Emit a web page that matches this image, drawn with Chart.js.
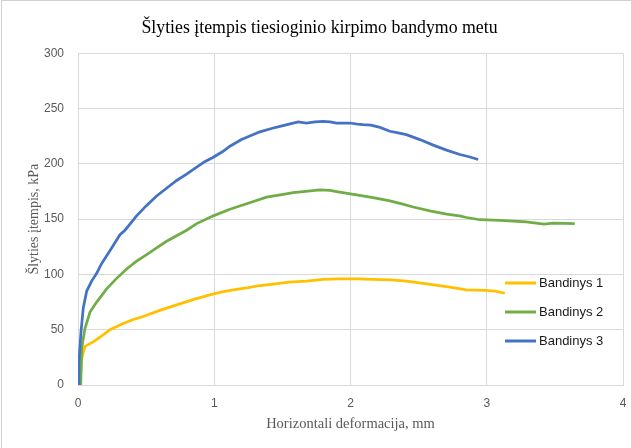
<!DOCTYPE html>
<html>
<head>
<meta charset="utf-8">
<script src="https://cdn.jsdelivr.net/npm/chart.js@4/dist/chart.umd.min.js"></script>
<style>
html,body{margin:0;padding:0;background:#fff;}
#wrap{width:631px;height:448px;position:relative;}
</style>
</head>
<body>
<div id="wrap"><canvas id="c" width="631" height="448"></canvas></div>
<script>
const chartTitle = "Šlyties įtempis tiesioginio kirpimo bandymo metu";
const xTitle = "Horizontali deformacija, mm";
const yTitle = "Šlyties įtempis, kPa";
const seriesNames = ["Bandinys 1", "Bandinys 2", "Bandinys 3"];
const seriesColors = ["#FFC000", "#70AD47", "#4472C4"];

const b1X = [0.015, 0.027, 0.051, 0.112, 0.17, 0.235, 0.32, 0.4, 0.479, 0.6, 0.724, 0.85, 0.968, 1.05, 1.14, 1.25, 1.335, 1.45, 1.55, 1.678, 1.8, 1.922, 2.05, 2.166, 2.3, 2.41, 2.558, 2.705, 2.852, 2.998, 3.06, 3.133];
const b1Y = [0, 24, 35, 39, 44, 50, 55, 59, 62, 67.5, 72.5, 77.5, 81.5, 84, 86, 88, 90, 91.5, 93, 94, 95.5, 96, 96, 95.5, 95, 94, 91.5, 89, 86, 85.5, 85, 83];

const b2X = [0.02, 0.027, 0.051, 0.088, 0.137, 0.21, 0.28, 0.357, 0.43, 0.504, 0.577, 0.65, 0.724, 0.797, 0.871, 0.993, 1.115, 1.238, 1.384, 1.506, 1.58, 1.653, 1.775, 1.85, 1.898, 2.044, 2.166, 2.289, 2.37, 2.46, 2.583, 2.705, 2.80, 2.852, 2.95, 3.10, 3.29, 3.42, 3.49, 3.646];
const b2Y = [0, 33, 51, 66, 75, 87, 96, 105, 112, 118, 124, 130, 135, 140, 146, 153, 159, 164, 170, 172.5, 174, 175, 176.5, 176, 175, 172, 169.5, 166.5, 164, 161, 157.5, 154.5, 153, 151.5, 149.5, 149, 147.5, 145.5, 146.5, 146];

const b3X = [0, 0.007, 0.022, 0.039, 0.064, 0.10, 0.137, 0.174, 0.247, 0.308, 0.345, 0.43, 0.5, 0.577, 0.65, 0.724, 0.8, 0.871, 0.93, 0.993, 1.06, 1.115, 1.2, 1.335, 1.42, 1.482, 1.55, 1.616, 1.677, 1.74, 1.80, 1.85, 1.898, 1.95, 1.996, 2.05, 2.093, 2.15, 2.216, 2.289, 2.35, 2.41, 2.509, 2.607, 2.705, 2.803, 2.87, 2.937];
const b3Y = [0, 21, 48, 70, 85, 94, 101, 110, 124, 136, 140, 153, 162, 171, 178, 185, 191, 197, 202, 206, 211, 216, 222, 229, 232, 234, 236, 238, 237, 238, 238.5, 238, 237, 237, 237, 236, 235.5, 235, 233, 229.5, 228, 226.5, 222, 217, 212.5, 208.5, 206.5, 204];

const xTicks = [0, 1, 2, 3, 4];
const yTicks = [0, 50, 100, 150, 200, 250, 300];

function pts(xs, ys){ return xs.map((x,i)=>({x:x, y:ys[i]})); }
const allX = [b1X, b2X, b3X];
const allY = [b1Y, b2Y, b3Y];

const datasets = seriesNames.map((name,i)=>({
  label: name,
  data: pts(allX[i], allY[i]),
  borderColor: seriesColors[i],
  backgroundColor: seriesColors[i],
  borderWidth: 2.75,
  pointRadius: 0,
  tension: 0,
  fill: false,
  order: 2 - i
}));

const customLegend = {
  id: 'customLegend',
  afterDraw(chart){
    const ctx = chart.ctx;
    ctx.save();
    ctx.font = '13px "Liberation Sans", Arial, sans-serif';
    ctx.textBaseline = 'middle';
    ctx.textAlign = 'left';
    const ys = [283, 312, 341];
    chart.data.datasets.forEach((ds,i)=>{
      ctx.strokeStyle = ds.borderColor;
      ctx.lineWidth = 3;
      ctx.beginPath();
      ctx.moveTo(505, ys[i]);
      ctx.lineTo(536, ys[i]);
      ctx.stroke();
      ctx.fillStyle = '#1a1a1a';
      ctx.fillText(ds.label, 539, ys[i] + 0.5);
    });
    ctx.strokeStyle = '#d0d0d0';
    ctx.lineWidth = 1;
    ctx.beginPath();
    ctx.moveTo(1.5, 448);
    ctx.lineTo(1.5, 0.5);
    ctx.lineTo(631, 0.5);
    ctx.stroke();
    ctx.restore();
  }
};

new Chart(document.getElementById('c'), {
  type: 'line',
  data: { datasets },
  options: {
    responsive: false,
    animation: false,
    layout: { padding: { left: 8, right: 0, top: 0, bottom: 0 } },
    plugins: {
      legend: { display: false },
      tooltip: { enabled: false },
      title: {
        display: true,
        text: chartTitle,
        color: '#000',
        font: { family: '"Liberation Serif", "Times New Roman", serif', size: 17.8, weight: 'normal', lineHeight: 1.2 },
        padding: { top: 18, bottom: 14 }
      }
    },
    scales: {
      x: {
        type: 'linear',
        min: 0, max: 4,
        afterFit(s){ s.height = 63; s.paddingRight = 8; s.paddingLeft = 0; },
        afterBuildTicks(s){ s.ticks = xTicks.map(v=>({value:v})); },
        grid: { color: '#d9d9d9', lineWidth: 1, drawTicks: false, tickLength: 0 },
        border: { display: true, color: '#d9d9d9' },
        ticks: { color: '#595959', padding: 11, font: { family: '"Liberation Sans", Arial, sans-serif', size: 12 } },
        title: {
          display: true, text: xTitle, color: '#595959',
          font: { family: '"Liberation Serif", "Times New Roman", serif', size: 14.5, lineHeight: 1.2 },
          padding: { top: 0, bottom: 15 }
        }
      },
      y: {
        type: 'linear',
        min: 0, max: 300,
        afterFit(s){ s.width = 70; },
        afterBuildTicks(s){ s.ticks = yTicks.map(v=>({value:v})); },
        grid: { color: '#d9d9d9', lineWidth: 1, drawTicks: false, tickLength: 0 },
        border: { display: true, color: '#d9d9d9' },
        ticks: { color: '#595959', padding: 14, font: { family: '"Liberation Sans", Arial, sans-serif', size: 12 } },
        title: {
          display: true, text: yTitle, color: '#595959',
          font: { family: '"Liberation Serif", "Times New Roman", serif', size: 14, lineHeight: 1.2 },
          padding: { top: 18, bottom: 0 }
        }
      }
    }
  },
  plugins: [customLegend]
});
</script>
</body>
</html>
